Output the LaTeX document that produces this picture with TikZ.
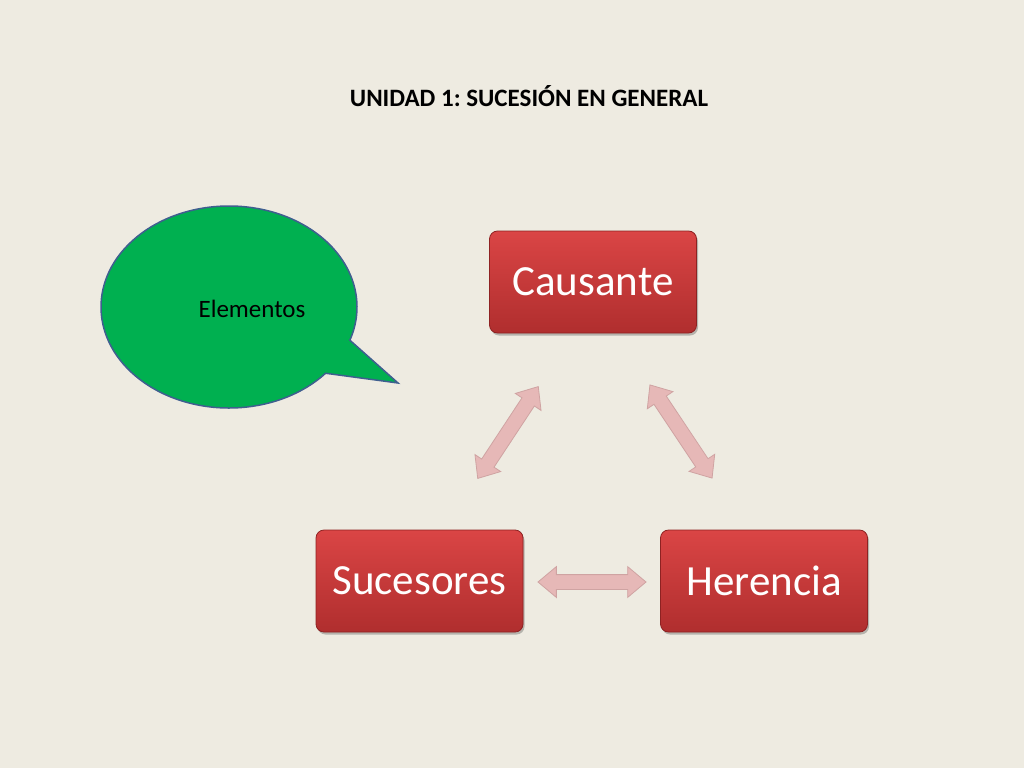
\documentclass[tikz,border=0pt]{standalone}
\usepackage{fontspec}
\setmainfont{Carlito}
\usetikzlibrary{shapes.arrows,shadows}
\definecolor{bg}{HTML}{EEEBE1}
\definecolor{boxtop}{HTML}{DA4545}
\definecolor{boxbot}{HTML}{B02E2E}
\definecolor{boxline}{HTML}{8E2222}
\definecolor{calfill}{HTML}{00B050}
\definecolor{calline}{HTML}{3F5F8F}
\definecolor{arrfill}{HTML}{E6B8B7}
\definecolor{arrline}{HTML}{CFA3A2}
\tikzset{
  box/.style={draw=boxline, line width=0.8pt, rounded corners=8pt,
    top color=boxtop, bottom color=boxbot, text=white,
    minimum width=207pt, minimum height=102pt, inner sep=0pt,
    font=\fontsize{43}{50}\selectfont,
    drop shadow={shadow xshift=1.5pt, shadow yshift=-2.5pt, opacity=0.35, fill=black!70}},
  dblarrow/.style={shape=double arrow, draw=arrline, fill=arrfill, line width=0.8pt,
    inner sep=7pt, double arrow head extend=8pt, double arrow tip angle=80},
  callout/.style={fill=calfill, draw=calline, line width=1.5pt},
}
\frenchspacing
\begin{document}
\begin{tikzpicture}[x=1pt,y=-1pt]
\fill[bg] (0,0) rectangle (1024,768);
\useasboundingbox (0,0) rectangle (1024,768);
\node[font=\fontsize{25}{30}\selectfont\bfseries] (title) at (529,96) {UNIDAD 1: SUCESIÓN EN GENERAL};
\coordinate (cc) at (229,307);
\draw[callout] ([shift={(19.2:128 and 101)}]cc) coordinate (t1) -- (398,383) coordinate (tip)
  -- ([shift={(41:128 and 101)}]cc) arc[start angle=41, end angle=379.2, x radius=128, y radius=101] -- cycle;
\node[font=\fontsize{25}{30}\selectfont] (elem) at (252,309) {Elementos};
\node[box] (caus) at (593,282) {Causante};
\node[box] (suc) at (419.5,581) {Sucesores};
\node[box] (her) at (764,581) {Herencia};
\node[dblarrow, minimum height=110pt, rotate=56.6] (a1) at (508,432.5) {};
\node[dblarrow, minimum height=112pt, rotate=-56.3] (a2) at (681,431.5) {};
\node[dblarrow, minimum height=108pt] (a3) at (592,582) {};
\end{tikzpicture}
\end{document}
